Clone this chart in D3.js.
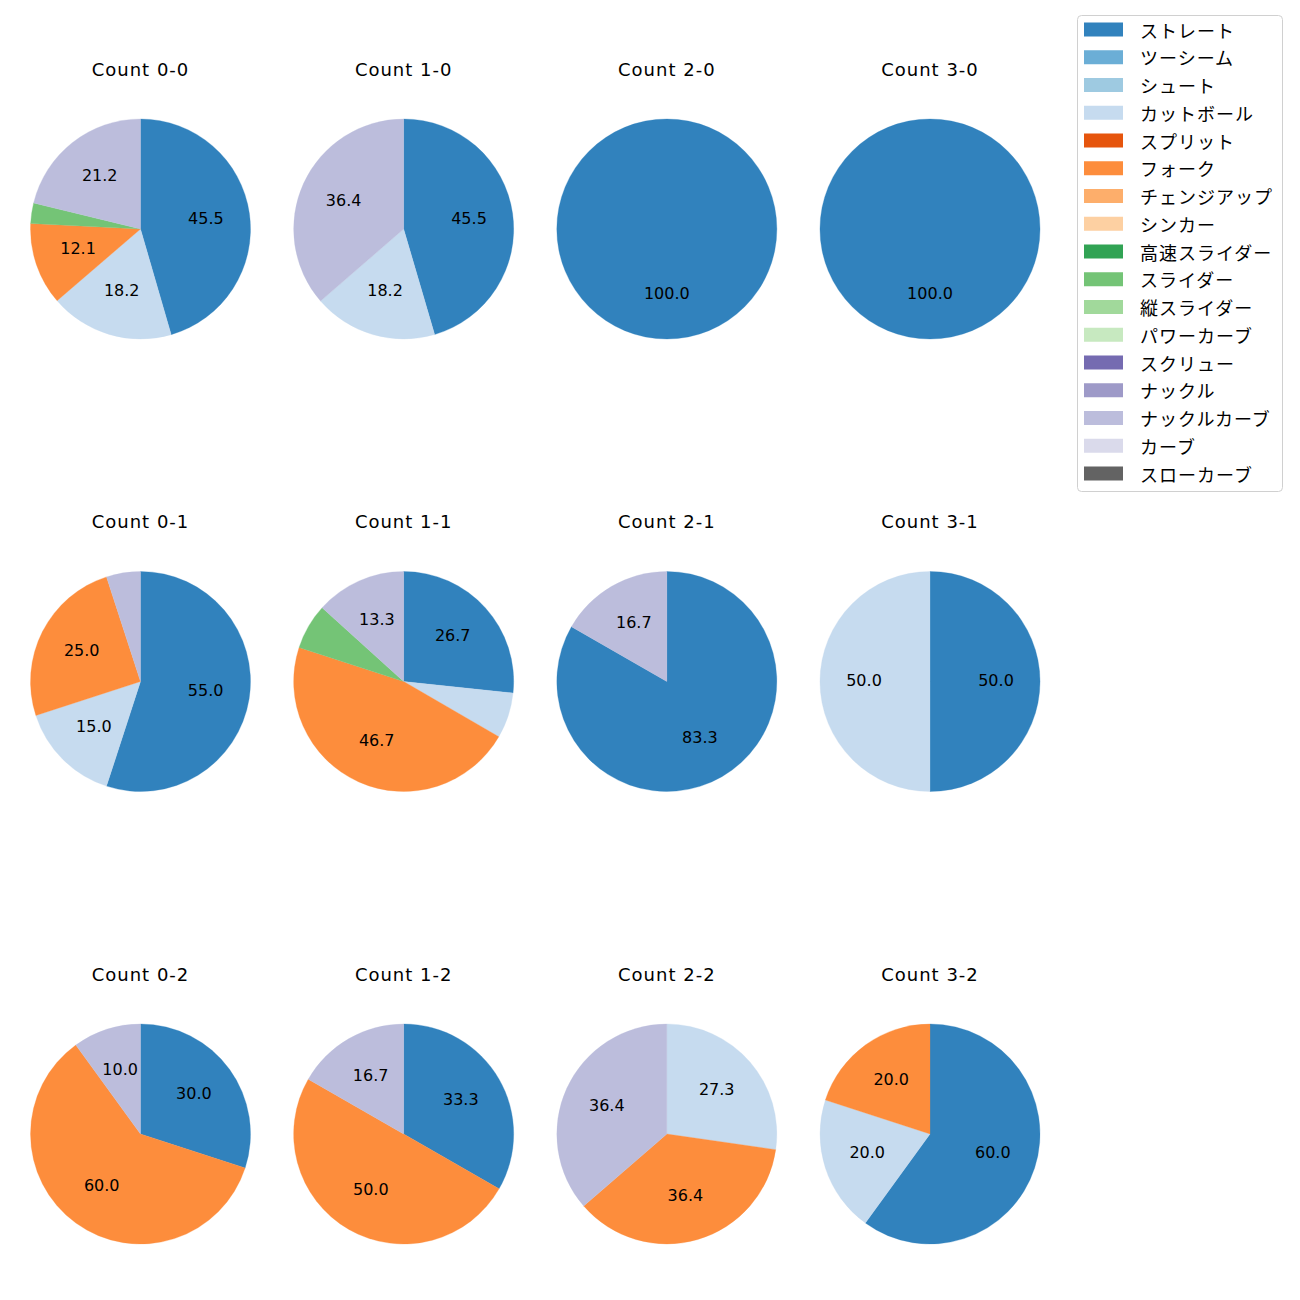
<!DOCTYPE html>
<html><head><meta charset="utf-8">
<script src="https://cdn.jsdelivr.net/npm/d3@7"></script>
<style>body{margin:0;background:#fff}svg{display:block}text{font-family:"DejaVu Sans","Noto Sans CJK JP",sans-serif;}</style>
</head><body>
<script>
const pitchTypes = ["ストレート","ツーシーム","シュート","カットボール","スプリット","フォーク","チェンジアップ","シンカー","高速スライダー","スライダー","縦スライダー","パワーカーブ","スクリュー","ナックル","ナックルカーブ","カーブ","スローカーブ"];
const colors = ["#3182bd","#6baed6","#9ecae1","#c6dbef","#e6550d","#fd8d3c","#fdae6b","#fdd0a2","#31a354","#74c476","#a1d99b","#c7e9c0","#756bb1","#9e9ac8","#bcbddc","#dadaeb","#636363"];
const counts = ["0-0","1-0","2-0","3-0","0-1","1-1","2-1","3-1","0-2","1-2","2-2","3-2"];
// percentages per pitch type (order of pitchTypes)
const v00 = [45.5,0,0,18.2,0,12.1,0,0,0,3.0,0,0,0,0,21.2,0,0];
const v10 = [45.5,0,0,18.2,0,0,0,0,0,0,0,0,0,0,36.4,0,0];
const v20 = [100,0,0,0,0,0,0,0,0,0,0,0,0,0,0,0,0];
const v30 = [100,0,0,0,0,0,0,0,0,0,0,0,0,0,0,0,0];
const v01 = [55.0,0,0,15.0,0,25.0,0,0,0,0,0,0,0,0,5.0,0,0];
const v11 = [26.7,0,0,6.7,0,46.7,0,0,0,6.7,0,0,0,0,13.3,0,0];
const v21 = [83.3,0,0,0,0,0,0,0,0,0,0,0,0,0,16.7,0,0];
const v31 = [50.0,0,0,50.0,0,0,0,0,0,0,0,0,0,0,0,0,0];
const v02 = [30.0,0,0,0,0,60.0,0,0,0,0,0,0,0,0,10.0,0,0];
const v12 = [33.3,0,0,0,0,50.0,0,0,0,0,0,0,0,0,16.7,0,0];
const v22 = [0,0,0,27.3,0,36.4,0,0,0,0,0,0,0,0,36.4,0,0];
const v32 = [60.0,0,0,20.0,0,20.0,0,0,0,0,0,0,0,0,0,0,0];
const allValues = [v00,v10,v20,v30,v01,v11,v21,v31,v02,v12,v22,v32];

const W=1300,H=1300;
const svg=d3.select("body").append("svg").attr("width",W).attr("height",H);
const colX=d3.scalePoint().domain([0,1,2,3]).range([140.5,930]);
const rowY=d3.scalePoint().domain([0,1,2]).range([229,1134]);
const R=110;
const color=d3.scaleOrdinal().domain(pitchTypes).range(colors);
const pie=d3.pie().sort(null).value(d=>d.v);
const arc=d3.arc().innerRadius(0).outerRadius(R);
const labelArc=d3.arc().innerRadius(R*0.6).outerRadius(R*0.6);

counts.forEach((c,i)=>{
  const col=i%4,row=Math.floor(i/4);
  const cx=colX(col),cy=rowY(row);
  const g=svg.append("g").attr("transform",`translate(${cx},${cy})`);
  const data=pitchTypes.map((p,k)=>({p,v:allValues[i][k]})).filter(d=>d.v>0);
  const arcs=pie(data);
  g.selectAll("path").data(arcs).enter().append("path")
    .attr("d",arc).attr("fill",d=>color(d.data.p))
    .attr("stroke",d=>color(d.data.p)).attr("stroke-width",0.3);
  g.selectAll("text.lab").data(arcs.filter(d=>d.data.v>=10)).enter().append("text")
    .attr("class","lab")
    .attr("transform",d=>{const p=labelArc.centroid(d);return `translate(${p[0]},${p[1]-1.5})`;})
    .attr("text-anchor","middle").attr("dominant-baseline","central")
    .attr("font-size",16).attr("fill","#000")
    .text(d=>d.data.v.toFixed(1));
  svg.append("text").attr("x",cx).attr("y",cy-160)
    .attr("text-anchor","middle").attr("dominant-baseline","central")
    .attr("font-size",18).attr("letter-spacing",1).attr("fill","#000").text("Count "+c);
});

// legend
const lg=svg.append("g");
lg.append("rect").attr("x",1077.5).attr("y",15.5).attr("width",205).attr("height",476)
  .attr("rx",4).attr("fill","#fff").attr("stroke","#d0d0d0");
const ly=d3.scaleLinear().domain([0,16]).range([29.5,473.5]);
pitchTypes.forEach((p,k)=>{
  lg.append("rect").attr("x",1084).attr("y",ly(k)-7).attr("width",39).attr("height",14).attr("fill",color(p));
  lg.append("text").attr("x",1140).attr("y",ly(k)).attr("dominant-baseline","central")
    .style("font-family","'Noto Sans CJK JP',sans-serif")
    .attr("font-size",18).attr("letter-spacing",1).attr("fill","#000").text(p);
});
</script>
</body></html>
